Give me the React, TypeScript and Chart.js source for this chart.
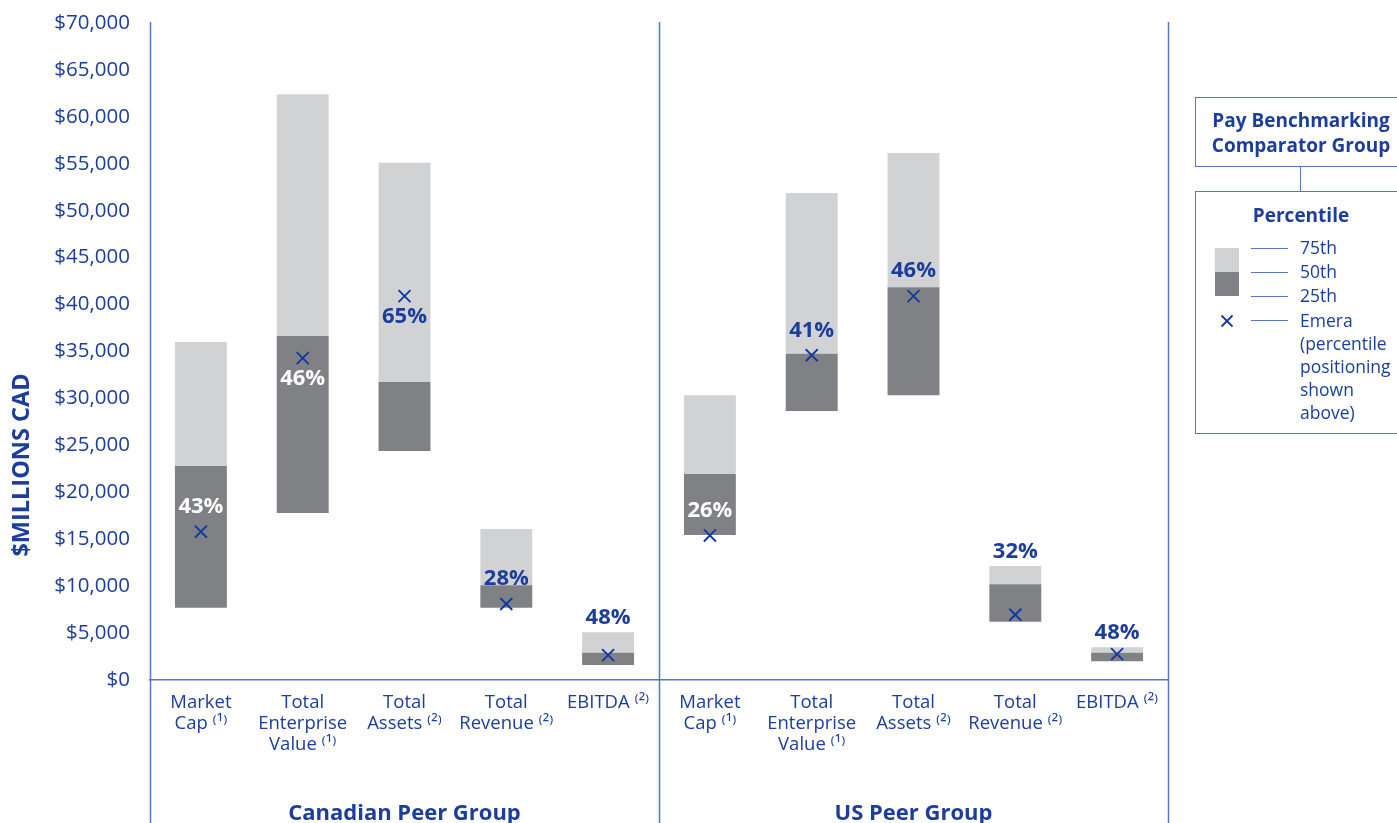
import React, { useEffect, useRef } from "react";
import { Chart, registerables } from "chart.js";

Chart.register(...registerables);

// ---- data ----
const categories: string[][] = [
  ["Market", "Cap \u207D\u00B9\u207E"],
  ["Total", "Enterprise", "Value \u207D\u00B9\u207E"],
  ["Total", "Assets \u207D\u00B2\u207E"],
  ["Total", "Revenue \u207D\u00B2\u207E"],
  ["EBITDA \u207D\u00B2\u207E"],
  ["Market", "Cap \u207D\u00B9\u207E"],
  ["Total", "Enterprise", "Value \u207D\u00B9\u207E"],
  ["Total", "Assets \u207D\u00B2\u207E"],
  ["Total", "Revenue \u207D\u00B2\u207E"],
  ["EBITDA \u207D\u00B2\u207E"],
];
const groups = ["Canadian Peer Group", "US Peer Group"];
const p25 = [7700, 17800, 24400, 7700, 1600, 15450, 28650, 30350, 6200, 2000];
const p50 = [22800, 36650, 31750, 10100, 2900, 21950, 34750, 41850, 10200, 2900];
const p75 = [36000, 62400, 55100, 16100, 5100, 30350, 51900, 56150, 12150, 3500];
const emera = [15800, 34300, 40900, 8100, 2650, 15400, 34600, 40900, 6950, 2750];
const emeraPercentile = ["43%", "46%", "65%", "28%", "48%", "26%", "41%", "46%", "32%", "48%"];
const labelPlacement = ["above", "below", "below", "above", "top", "above", "above", "above", "top", "top"];
const yTicks = { min: 0, max: 70000, step: 5000 };

// ---- styles ----
const FONT = "'Open Sans', 'Noto Sans', sans-serif";
const BLUE_TEXT = "#1c3d9c";
const BLUE_MARK = "#1537a0";
const BLUE_LINE = "#5874c4";
const LIGHT = "#d1d2d4";
const DARK = "#808184";

const overlayPlugin = {
  id: "overlay",
  afterDatasetsDraw(chart: any) {
    const { ctx, scales } = chart;
    const x = scales.x;
    const y = scales.y;
    ctx.save();
    ctx.font = `bold 22px ${FONT}`;
    ctx.textAlign = "center";
    ctx.textBaseline = "middle";
    for (let i = 0; i < emera.length; i++) {
      const px = x.getPixelForValue(i);
      const ey = y.getPixelForValue(emera[i]);
      let cy = ey - 25;
      if (labelPlacement[i] === "below") cy = ey + 21;
      if (labelPlacement[i] === "top") cy = y.getPixelForValue(p75[i]) - 14;
      const v = y.getValueForPixel(cy);
      ctx.fillStyle = v >= p25[i] && v <= p50[i] ? "#ffffff" : BLUE_TEXT;
      ctx.fillText(emeraPercentile[i], px, cy);
    }
    ctx.restore();
  },
  afterDraw(chart: any) {
    const { ctx, chartArea, scales } = chart;
    const x = scales.x;
    ctx.save();
    ctx.strokeStyle = BLUE_LINE;
    ctx.lineWidth = 1.5;
    const mid = (x.getPixelForValue(4) + x.getPixelForValue(5)) / 2;
    [chartArea.left, mid, chartArea.right].forEach((lx: number) => {
      const xx = Math.round(lx) + 0.5;
      ctx.beginPath();
      ctx.moveTo(xx, chartArea.top - 1);
      ctx.lineTo(xx, chart.height);
      ctx.stroke();
    });
    // y axis title
    ctx.translate(22, 465);
    ctx.rotate(-Math.PI / 2);
    ctx.font = `bold 23.5px ${FONT}`;
    ctx.fillStyle = BLUE_TEXT;
    ctx.textAlign = "center";
    ctx.textBaseline = "middle";
    ctx.fillText("$MILLIONS CAD", 0, 0);
    ctx.restore();
  },
};

function LegendX() {
  return (
    <svg width="14" height="14" style={{ position: "absolute", left: 1220, top: 314 }}>
      <line x1="1.5" y1="1.5" x2="12.5" y2="12.5" stroke={BLUE_MARK} strokeWidth="1.8" />
      <line x1="12.5" y1="1.5" x2="1.5" y2="12.5" stroke={BLUE_MARK} strokeWidth="1.8" />
    </svg>
  );
}

export default function App() {
  const canvasRef = useRef<HTMLCanvasElement | null>(null);

  useEffect(() => {
    document.body.style.margin = "0";
    document.body.style.overflow = "hidden";
    const canvas = canvasRef.current;
    if (!canvas) return;
    const chart = new Chart(canvas, {
      type: "bar",
      data: {
        labels: categories as any,
        datasets: [
          {
            type: "line" as const,
            label: "Emera",
            data: emera,
            showLine: false,
            pointStyle: "crossRot",
            pointRadius: 8.5,
            pointBorderWidth: 1.9,
            borderColor: BLUE_MARK,
            backgroundColor: BLUE_MARK,
            order: 0,
          } as any,
          {
            label: "25th-50th",
            data: p25.map((v, i) => [v, p50[i]]) as any,
            backgroundColor: DARK,
            grouped: false,
            categoryPercentage: 1,
            barPercentage: 0.51,
            order: 2,
          },
          {
            label: "50th-75th",
            data: p50.map((v, i) => [v, p75[i]]) as any,
            backgroundColor: LIGHT,
            grouped: false,
            categoryPercentage: 1,
            barPercentage: 0.51,
            order: 2,
          },
        ],
      },
      options: {
        animation: false,
        responsive: false,
        layout: { padding: { top: 23, right: 229, bottom: 0, left: 0 } },
        plugins: { legend: { display: false }, tooltip: { enabled: false } },
        scales: {
          x: {
            type: "category",
            position: "bottom",
            offset: true,
            grid: { display: false, drawTicks: false },
            border: { display: true, color: BLUE_LINE, width: 1.5 },
            ticks: {
              color: BLUE_TEXT,
              font: { family: FONT, size: 18.5, lineHeight: 1.14 },
              padding: 12,
              autoSkip: false,
              maxRotation: 0,
              minRotation: 0,
            },
            afterFit: (s: any) => {
              s.height = 100;
              s.paddingLeft = 0;
              s.paddingRight = 0;
            },
          },
          x2: {
            type: "category",
            position: "bottom",
            labels: groups,
            offset: true,
            grid: { display: false, drawTicks: false },
            border: { display: false },
            ticks: {
              color: BLUE_TEXT,
              font: { family: FONT, size: 22, weight: "bold" },
              padding: 21,
              maxRotation: 0,
              autoSkip: false,
            },
            afterFit: (s: any) => {
              s.height = 43;
              s.paddingLeft = 0;
              s.paddingRight = 0;
            },
          },
          y: {
            min: yTicks.min,
            max: yTicks.max,
            grid: { display: false, drawTicks: false },
            border: { display: false },
            ticks: {
              stepSize: yTicks.step,
              color: BLUE_TEXT,
              padding: 20,
              font: { family: FONT, size: 20.5 },
              callback: (v: any) => "$" + Number(v).toLocaleString("en-US"),
            },
            afterFit: (s: any) => {
              s.width = 150;
              s.paddingTop = 0;
              s.paddingBottom = 0;
            },
          },
        },
      },
      plugins: [overlayPlugin],
    });
    return () => chart.destroy();
  }, []);

  const txt: React.CSSProperties = {
    position: "absolute",
    fontFamily: FONT,
    color: BLUE_TEXT,
    fontSize: 17.5,
    lineHeight: "23px",
    whiteSpace: "nowrap",
  };
  const hline = (top: number): React.CSSProperties => ({
    position: "absolute",
    left: 1251,
    top,
    width: 37,
    height: 0,
    borderTop: `1.5px solid ${BLUE_LINE}`,
  });

  return (
    <div style={{ position: "relative", width: 1397, height: 823, overflow: "hidden", background: "#fff" }}>
      <canvas ref={canvasRef} width={1397} height={823} style={{ position: "absolute", left: 0, top: 0 }} />
      {/* legend box 1 */}
      <div
        style={{
          position: "absolute",
          left: 1195,
          top: 97,
          width: 212,
          height: 70,
          boxSizing: "border-box",
          border: `1.5px solid ${BLUE_LINE}`,
        }}
      />
      <div
        style={{
          ...txt,
          left: 1195,
          width: 212,
          top: 108,
          textAlign: "center",
          fontWeight: "bold",
          fontSize: 19,
          lineHeight: "25px",
        }}
      >
        Pay Benchmarking
        <br />
        Comparator Group
      </div>
      <div style={{ position: "absolute", left: 1300, top: 167, width: 0, height: 24, borderLeft: `1.5px solid ${BLUE_LINE}` }} />
      {/* legend box 2 */}
      <div
        style={{
          position: "absolute",
          left: 1195,
          top: 191,
          width: 212,
          height: 243,
          boxSizing: "border-box",
          border: `1.5px solid ${BLUE_LINE}`,
        }}
      />
      <div style={{ ...txt, left: 1195, width: 212, top: 204, textAlign: "center", fontWeight: "bold", fontSize: 19 }}>
        Percentile
      </div>
      <div style={{ position: "absolute", left: 1215, top: 248, width: 24, height: 24, background: LIGHT }} />
      <div style={{ position: "absolute", left: 1215, top: 272, width: 24, height: 24, background: DARK }} />
      <div style={hline(248)} />
      <div style={hline(272)} />
      <div style={hline(296)} />
      <div style={hline(320)} />
      <LegendX />
      <div style={{ ...txt, left: 1300, top: 236 }}>75th</div>
      <div style={{ ...txt, left: 1300, top: 260 }}>50th</div>
      <div style={{ ...txt, left: 1300, top: 284 }}>25th</div>
      <div style={{ ...txt, left: 1300, top: 309 }}>
        Emera
        <br />
        (percentile
        <br />
        positioning
        <br />
        shown
        <br />
        above)
      </div>
    </div>
  );
}
